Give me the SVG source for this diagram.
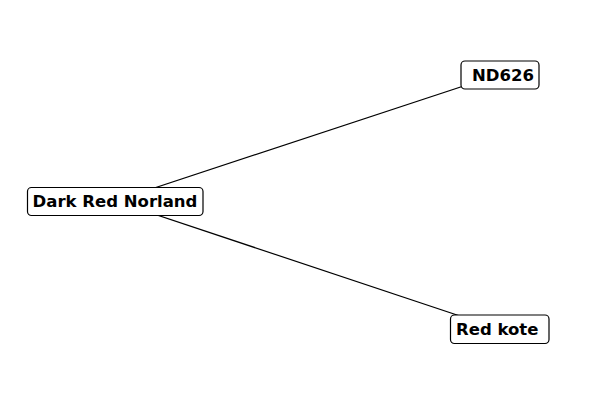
<svg xmlns="http://www.w3.org/2000/svg" width="600" height="400" viewBox="0 0 600 400">
<style>
.box{fill:#fff;stroke:#000;stroke-width:1.2}
.lbl{font-family:"DejaVu Sans",sans-serif;font-weight:bold;font-size:16.5px;fill:#000}
.edge{stroke:#000;stroke-width:1.2;fill:none}
</style>
<rect width="600" height="400" fill="#fff"/>
<g id="edges">
<line class="edge" x1="115" y1="201" x2="500" y2="74"/>
<line class="edge" x1="115" y1="201" x2="499" y2="329"/>
</g>
<g id="node-dark-red-norland">
<rect class="box" x="27.5" y="187.5" width="175.5" height="28" rx="4"/>
<text class="lbl" x="115" y="207" text-anchor="middle">Dark Red Norland</text>
</g>
<g id="node-nd626">
<rect class="box" x="461" y="61" width="78" height="28" rx="4"/>
<text class="lbl" x="472" y="80.5">ND626</text>
</g>
<g id="node-red-kote">
<rect class="box" x="450.5" y="315" width="98.5" height="28.5" rx="4"/>
<text class="lbl" x="456" y="334.5">Red kote</text>
</g>
</svg>
